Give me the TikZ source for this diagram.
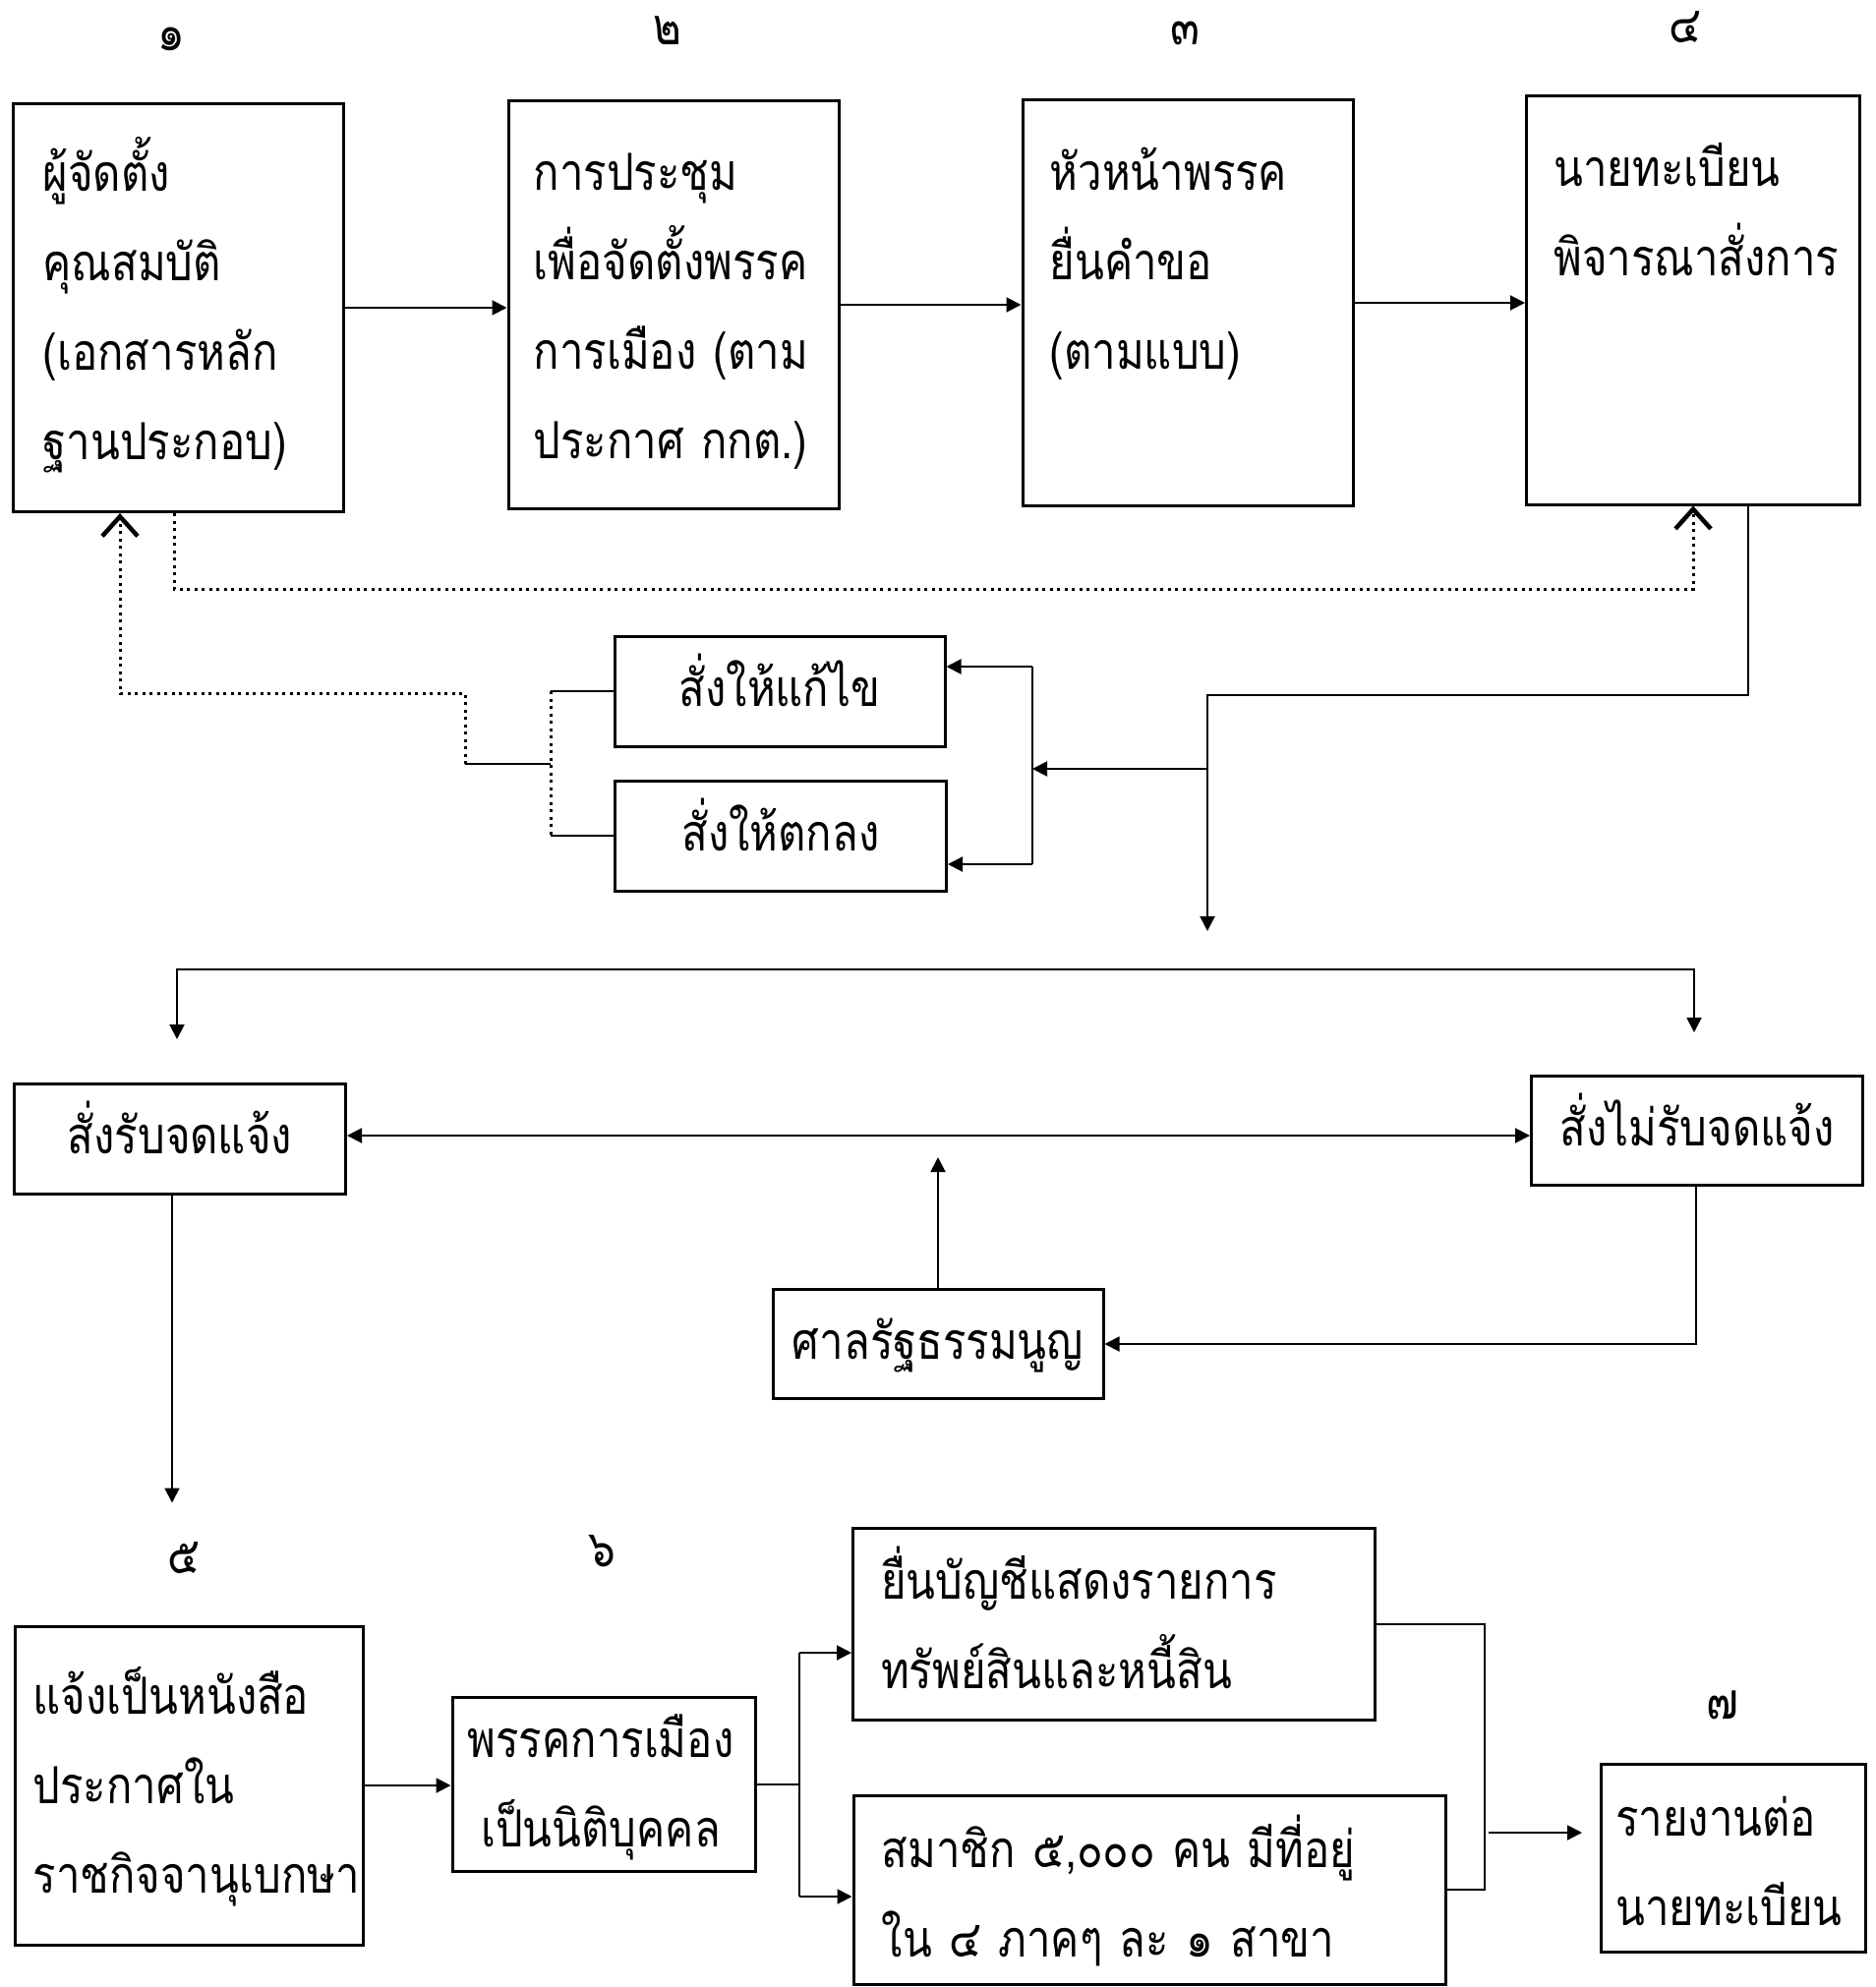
\documentclass[tikz,border=0pt]{standalone}
\usepackage{fontspec}
\newfontfamily\thaifont[Script=Thai,FakeStretch=0.84]{Loma}
\usetikzlibrary{arrows.meta}

\begin{document}
\begin{tikzpicture}[x=1pt,y=-1pt]
	\tikzstyle{box}=[draw,line width=3pt,inner sep=0pt]
	\tikzstyle{lbl}=[font=\thaifont\fontsize{52}{90}\selectfont,inner sep=0pt,text height=46pt,text depth=15pt]
	\tikzstyle{boxtext}=[font=\thaifont\fontsize{52}{91}\selectfont,inner sep=0pt,text width=560pt,align=left,anchor=base west]
	\tikzstyle{conn}=[line width=2pt,>={Triangle[length=15pt,width=15pt]}]
	\tikzstyle{dotline}=[line width=3pt,dash pattern=on 3pt off 4.5pt]
	\tikzstyle{dotarr}=[dotline,-{Straight Barb[length=20pt,width=36pt,line width=4.5pt]}]
	\useasboundingbox (0,0) rectangle (1907,2021);
	
	\node[lbl] (n1) at (174,36) {๑};
	\node[lbl] (n2) at (679,30) {๒};
	\node[lbl] (n3) at (1205,30) {๓};
	\node[lbl] (n4) at (1714,28) {๔};
	
	\node[box,minimum width=336,minimum height=415] (b1) at (181,313) {};
	\node[box,minimum width=336,minimum height=415] (b2) at (685,310) {};
	\node[box,minimum width=336,minimum height=413] (b3) at (1208,308) {};
	\node[box,minimum width=339,minimum height=416] (b4) at (1722,305) {};
	\node[boxtext] (t1) at ([shift={(32,90)}]b1.north west) {ผู้จัดตั้ง\\คุณสมบัติ\\(เอกสารหลัก\\ฐานประกอบ)};
	\node[boxtext] (t2) at ([shift={(27,92)}]b2.north west) {การประชุม\\เพื่อจัดตั้งพรรค\\การเมือง (ตาม\\ประกาศ กกต.)};
	\node[boxtext] (t3) at ([shift={(29,93)}]b3.north west) {หัวหน้าพรรค\\ยื่นคำขอ\\(ตามแบบ)};
	\node[boxtext] (t4) at ([shift={(29,94)}]b4.north west) {นายทะเบียน\\พิจารณาสั่งการ};
	
	\draw[conn,->] (b1.east) -- (b1.east -| b2.west);
	\draw[conn,->] (b2.east) -- (b2.east -| b3.west);
	\draw[conn,->] (b3.east) -- (b3.east -| b4.west);
	
	\draw[dotarr] ([xshift=-4]b1.south) -- ++(0,77) -| (b4.south);
	
	\node[box,lbl,minimum width=336,minimum height=112] (fix) at (793,703) {สั่งให้แก้ไข};
	\node[box,lbl,minimum width=337,minimum height=112] (rej) at (794,850) {สั่งให้ตกลง};
	\coordinate (split) at (560,777);
	\draw[conn] (fix.west) -- (fix.west -| split);
	\draw[conn] (rej.west) -- (rej.west -| split);
	\draw[dotline] (fix.west -| split) -- (rej.west -| split);
	\draw[conn] (split) -- ++(-87,0) coordinate (back);
	\draw[dotarr] (back) -- ++(0,-72) -| ([xshift=-59]b1.south);
	
	\coordinate (turn) at (1228,707);
	\coordinate (drop) at (1228,947);
	\coordinate (fork) at (1050,782);
	\coordinate (fu) at (1050,678);
	\coordinate (fd) at (1050,879);
	\draw[conn,->] ([xshift=56]b4.south) |- (turn) -- (drop);
	\draw[conn,->] (turn |- fork) -- (fork);
	\draw[conn] (fu) -- (fd);
	\draw[conn,->] (fu) -- (fu -| fix.east);
	\draw[conn,->] (fd) -- (fd -| rej.east);
	
	\coordinate (la) at (180,1057);
	\coordinate (ra) at (1723,1050);
	\draw[conn,<->] (la) |- (1723,986) -- (ra);
	
	\node[box,lbl,minimum width=337,minimum height=112] (acc) at (183,1158) {สั่งรับจดแจ้ง};
	\node[box,lbl,minimum width=337,minimum height=111] (nacc) at (1726,1150) {สั่งไม่รับจดแจ้ง};
	\node[box,lbl,minimum width=336,minimum height=111] (court) at (954,1367) {ศาลรัฐธรรมนูญ};
	\coordinate (mid) at (950,1155);
	\draw[conn,<->] (mid -| acc.east) -- (mid -| nacc.west);
	\draw[conn,->] (court.north) -- ++(0,-133);
	\draw[conn,->] ([xshift=-1]nacc.south) |- (court.east);
	\draw[conn,->] ([xshift=-8]acc.south) -- ++(0,313);
	
	\node[lbl] (n5) at (187,1585) {๕};
	\node[lbl] (n6) at (612,1578) {๖};
	\node[lbl] (n7) at (1752,1733) {๗};
	
	\node[box,minimum width=354,minimum height=324] (notice) at (192,1816) {};
	\node[box,minimum width=308,minimum height=177] (party) at (614,1815) {};
	\node[box,minimum width=531,minimum height=195] (assets) at (1133,1652) {};
	\node[box,minimum width=602,minimum height=192] (members) at (1169,1922) {};
	\node[box,minimum width=269,minimum height=191] (report) at (1763,1890) {};
	\node[boxtext] (t5) at ([shift={(20,91)}]notice.north west) {แจ้งเป็นหนังสือ\\ประกาศใน\\ราชกิจจานุเบกษา};
	\node[boxtext,text width=300pt,align=center,anchor=base] (t6) at ([shift={(-3,62)}]party.north) {พรรคการเมือง\\เป็นนิติบุคคล};
	\node[boxtext] (t7) at ([shift={(30,73)}]assets.north west) {ยื่นบัญชีแสดงรายการ\\ทรัพย์สินและหนี้สิน};
	\node[boxtext] (t8) at ([shift={(30,75)}]members.north west) {สมาชิก ๕,๐๐๐ คน มีที่อยู่\\ใน ๔ ภาคๆ ละ ๑ สาขา};
	\node[boxtext] (t9) at ([shift={(16,74)}]report.north west) {รายงานต่อ\\นายทะเบียน};
	
	\coordinate (sp) at (813,1813);
	\coordinate (up) at (813,1681);
	\coordinate (dn) at (813,1929);
	\coordinate (mg) at (1510,1864);
	\draw[conn,->] (notice.east) -- (notice.east -| party.west);
	\draw[conn] (party.east) -- (party.east -| sp);
	\draw[conn] (up) -- (dn);
	\draw[conn,->] (up) -- (up -| assets.west);
	\draw[conn,->] (dn) -- (dn -| members.west);
	\draw[conn] (assets.east) -| (mg) |- (members.east);
	\draw[conn,->] ([xshift=4]mg) -- ([xshift=-18]mg -| report.west);
\end{tikzpicture}
\end{document}
